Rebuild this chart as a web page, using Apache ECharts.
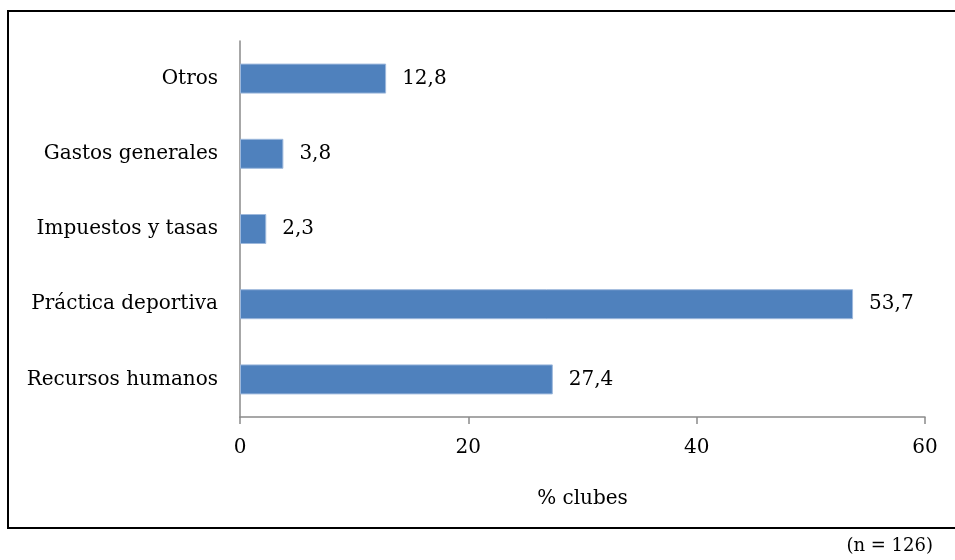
<!DOCTYPE html>
<html>
<head>
<meta charset="utf-8">
<script src="https://cdn.jsdelivr.net/npm/echarts@6/dist/echarts.min.js"></script>
<style>
  html, body { margin: 0; padding: 0; background: #ffffff; }
  #chart { width: 955px; height: 560px; }
</style>
</head>
<body>
<div id="chart"></div>
<script>
// Expense categories, listed bottom to top as the category axis draws them
const categories = ['Recursos humanos', 'Práctica deportiva', 'Impuestos y tasas', 'Gastos generales', 'Otros'];
// Share of clubs (%)
const values = [27.4, 53.7, 2.3, 3.8, 12.8];
// Value axis ticks
const xTicks = [0, 20, 40, 60];
const axisName = '% clubes';
const sampleNote = '(n = 126)';

const FONT = 'DejaVu Serif';
const AXIS_GRAY = '#8a8a8a';

const chart = echarts.init(document.getElementById('chart'), null, { renderer: 'canvas' });

chart.setOption({
  animation: false,
  backgroundColor: '#ffffff',
  textStyle: { fontFamily: FONT },
  grid: { left: 240, right: 30, top: 41, bottom: 143, containLabel: false },
  xAxis: {
    type: 'value',
    min: xTicks[0],
    max: xTicks[xTicks.length - 1],
    interval: xTicks[1] - xTicks[0],
    name: axisName,
    nameLocation: 'middle',
    nameGap: 72,
    nameTextStyle: { fontFamily: FONT, fontSize: 20, color: '#000' },
    axisLine: { show: true, lineStyle: { color: AXIS_GRAY, width: 1.5 } },
    axisTick: { show: true, length: 7, lineStyle: { color: AXIS_GRAY, width: 1.5 } },
    axisLabel: { fontFamily: FONT, fontSize: 20, color: '#000', margin: 21 },
    splitLine: { show: false }
  },
  yAxis: {
    type: 'category',
    data: categories,
    axisLine: { show: true, lineStyle: { color: AXIS_GRAY, width: 1.5 } },
    axisTick: { show: false },
    axisLabel: { fontFamily: FONT, fontSize: 20, color: '#000', margin: 22 }
  },
  series: [{
    type: 'bar',
    data: values,
    barWidth: 30,
    itemStyle: { color: '#4F81BD', borderColor: '#9DB8DC', borderWidth: 1 },
    label: {
      show: true,
      position: 'right',
      distance: 16,
      fontFamily: FONT,
      fontSize: 20,
      color: '#000',
      formatter: p => String(p.value).replace('.', ',')
    }
  }],
  graphic: [
    {
      type: 'rect',
      shape: { x: 8, y: 11, width: 960, height: 517 },
      style: { fill: 'none', stroke: '#000', lineWidth: 2 },
      silent: true
    },
    {
      type: 'text',
      right: 22,
      top: 537,
      style: { text: sampleNote, font: '18px "' + FONT + '"', fill: '#000' }
    }
  ]
});
</script>
</body>
</html>
